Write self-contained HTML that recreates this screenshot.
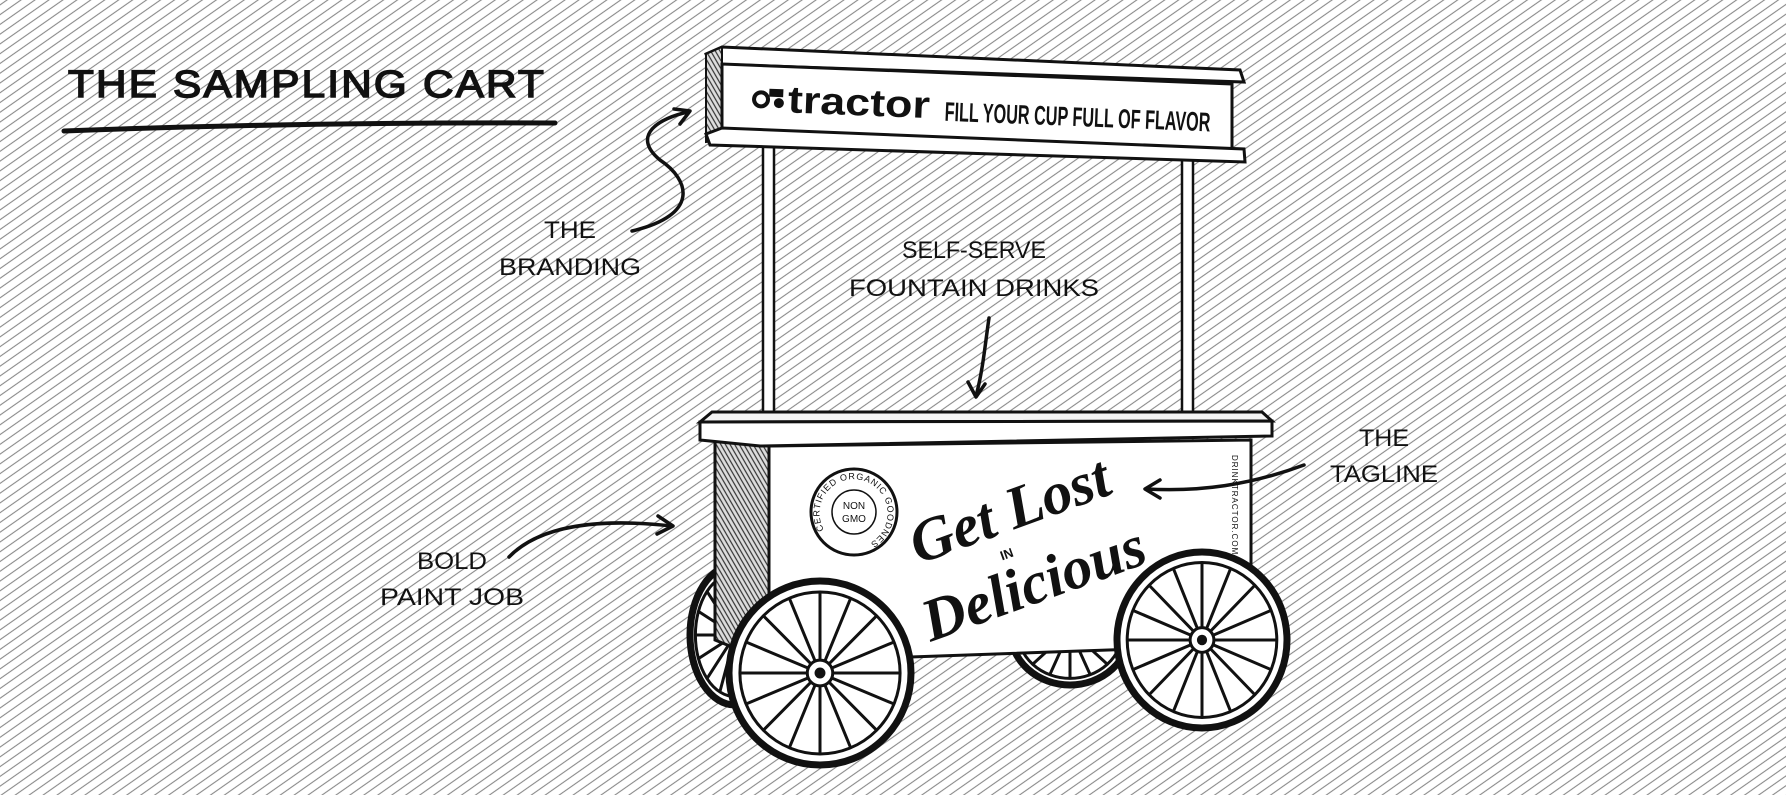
<!DOCTYPE html>
<html><head><meta charset="utf-8"><style>
html,body{margin:0;padding:0;background:#fff}
svg{display:block}
.h{font-family:"Liberation Sans",sans-serif;fill:#111}
</style></head><body>
<svg width="1786" height="795" viewBox="0 0 1786 795" xmlns="http://www.w3.org/2000/svg">
<defs>
<pattern id="bg" width="8" height="8" patternUnits="userSpaceOnUse" patternTransform="rotate(-35)">
<rect width="8" height="8" fill="#fff"/><line x1="0" y1="4" x2="8" y2="4" stroke="#8a8a8a" stroke-width="1.1"/>
</pattern>
<pattern id="dk" width="4" height="4" patternUnits="userSpaceOnUse" patternTransform="rotate(60)">
<rect width="4" height="4" fill="#ddd"/><line x1="0" y1="2" x2="4" y2="2" stroke="#333" stroke-width="1.2"/>
</pattern>
<g id="wheel">
<ellipse cx="0" cy="0" rx="1" ry="1" fill="url(#bg)" stroke="#111" stroke-width="7" vector-effect="non-scaling-stroke"/>
<ellipse cx="0" cy="0" rx="0.88" ry="0.88" fill="none" stroke="#111" stroke-width="3" vector-effect="non-scaling-stroke"/>
<path d="M0,-0.88L0,0.88M0.337,-0.813L-0.337,0.813M0.622,-0.622L-0.622,0.622M0.813,-0.337L-0.813,0.337M0.88,0L-0.88,0M0.813,0.337L-0.813,-0.337M0.622,0.622L-0.622,-0.622M0.337,0.813L-0.337,-0.813" stroke="#111" stroke-width="3" fill="none" vector-effect="non-scaling-stroke"/>
<ellipse cx="0" cy="0" rx="0.14" ry="0.14" fill="#fff" stroke="#111" stroke-width="3" vector-effect="non-scaling-stroke"/>
<ellipse cx="0" cy="0" rx="0.06" ry="0.06" fill="#111"/>
</g>
</defs>
<rect width="1786" height="795" fill="url(#bg)"/>

<!-- title -->
<text class="h" x="68" y="97" font-size="38" textLength="478" lengthAdjust="spacingAndGlyphs" stroke="#111" stroke-width="1.5" style="letter-spacing:2px">THE SAMPLING CART</text>
<path d="M64,131 Q300,122 555,123" stroke="#111" stroke-width="5" fill="none" stroke-linecap="round"/>

<!-- back wheels -->
<use href="#wheel" transform="translate(735,635) scale(45,70)"/>
<use href="#wheel" transform="translate(1070,630) scale(60,55)"/>

<!-- poles -->
<rect x="763" y="145" width="11" height="282" fill="#fff" stroke="#111" stroke-width="2.5"/>
<rect x="1182" y="160" width="11" height="262" fill="#fff" stroke="#111" stroke-width="2.5"/>

<!-- sign -->
<polygon points="706,54 722,47 1240,70 1244,82 710,64" fill="#fff" stroke="#111" stroke-width="3"/>
<polygon points="706,54 722,47 722,140 706,142" fill="url(#dk)" stroke="#111" stroke-width="2"/>
<polygon points="722,64 1232,84 1232,150 722,130" fill="#fff" stroke="#111" stroke-width="3"/>
<polygon points="706,134 722,128 1244,149 1245,162 710,145" fill="#fff" stroke="#111" stroke-width="3"/>
<g transform="rotate(2.3 752 100)">
<circle cx="761" cy="99" r="7" fill="none" stroke="#111" stroke-width="4"/>
<circle cx="779" cy="102" r="5" fill="#111"/>
<rect x="769" y="88" width="14" height="8" fill="#111"/>
<text class="h" x="788" y="111" font-size="38" font-weight="bold" textLength="142" lengthAdjust="spacingAndGlyphs">tractor</text>
<text class="h" x="945" y="113" font-size="27" font-weight="bold" textLength="266" lengthAdjust="spacingAndGlyphs">FILL YOUR CUP FULL OF FLAVOR</text>
</g>

<!-- counter -->
<polygon points="715,440 769,446 769,662 715,640" fill="url(#dk)" stroke="#111" stroke-width="3"/>
<polygon points="769,446 1251,440 1251,645 769,662" fill="#fff" stroke="#111" stroke-width="3"/>
<polygon points="700,422 712,412 1262,412 1272,421" fill="#f4f4f4" stroke="#111" stroke-width="3"/>
<polygon points="700,422 1272,421 1272,436 760,446 700,440" fill="#fff" stroke="#111" stroke-width="3"/>

<!-- badge -->
<circle cx="854" cy="512" r="43" fill="#fff" stroke="#111" stroke-width="3"/>
<circle cx="854" cy="512" r="22" fill="none" stroke="#111" stroke-width="1.5"/>
<text class="h" x="854" y="509" font-size="10" text-anchor="middle">NON</text>
<text class="h" x="854" y="522" font-size="10" text-anchor="middle">GMO</text>
<path id="arc" d="M824,530 A34,34 0 1,1 870,543" fill="none"/>
<text class="h" font-size="9" letter-spacing="0.8"><textPath href="#arc">CERTIFIED ORGANIC GOODNESS ·</textPath></text>
<text class="h" font-size="8" transform="translate(1232,455) rotate(90)" letter-spacing="1">DRINKTRACTOR.COM</text>

<!-- script -->
<g transform="rotate(-20 1000 540)">
<text x="915" y="535" font-family="Liberation Serif,serif" font-style="italic" font-weight="bold" font-size="60" fill="#111">Get Lost</text>
<text x="995" y="560" font-family="Liberation Sans,sans-serif" font-weight="bold" font-size="13" fill="#111">IN</text>
<text x="900" y="612" font-family="Liberation Serif,serif" font-style="italic" font-weight="bold" font-size="60" fill="#111">Delicious</text>
</g>

<!-- front wheels -->
<use href="#wheel" transform="translate(820,673) scale(91,92)"/>
<use href="#wheel" transform="translate(1202,640) scale(85,88)"/>

<!-- labels -->
<g class="h" font-size="24" text-anchor="middle">
<text x="570" y="238" textLength="52" lengthAdjust="spacingAndGlyphs">THE</text>
<text x="570" y="275" textLength="142" lengthAdjust="spacingAndGlyphs">BRANDING</text>
<text x="974" y="258" textLength="144" lengthAdjust="spacingAndGlyphs">SELF-SERVE</text>
<text x="974" y="296" textLength="250" lengthAdjust="spacingAndGlyphs">FOUNTAIN DRINKS</text>
<text x="1384" y="446" textLength="50" lengthAdjust="spacingAndGlyphs">THE</text>
<text x="1384" y="482" textLength="108" lengthAdjust="spacingAndGlyphs">TAGLINE</text>
<text x="452" y="569" textLength="70" lengthAdjust="spacingAndGlyphs">BOLD</text>
<text x="452" y="605" textLength="144" lengthAdjust="spacingAndGlyphs">PAINT JOB</text>
</g>

<!-- arrows -->
<g stroke="#111" stroke-width="3.5" fill="none" stroke-linecap="round" stroke-linejoin="round">
<path d="M632,231 C700,215 690,180 660,160 C630,135 660,118 688,112"/>
<path d="M674,109 L690,111 L680,124"/>
<path d="M989,318 C985,345 983,370 976,396"/>
<path d="M968,382 L976,397 L985,384"/>
<path d="M1304,465 C1250,485 1200,492 1146,489"/>
<path d="M1160,480 L1145,489 L1160,498"/>
<path d="M509,557 C540,525 600,518 672,526"/>
<path d="M658,516 L673,526 L657,534"/>
</g>
</svg>
</body></html>
